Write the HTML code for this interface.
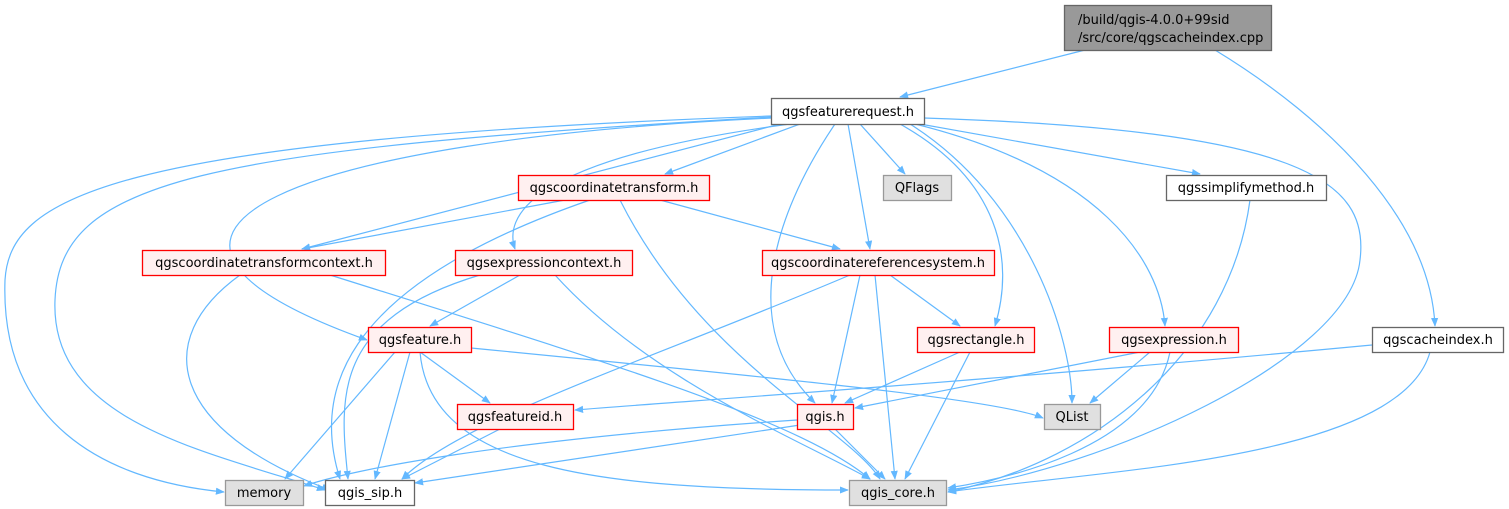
<!DOCTYPE html>
<html><head><meta charset="utf-8"><style>
html,body{margin:0;padding:0;background:#fff;}
svg{display:block;}
text{font-family:"DejaVu Sans","Liberation Sans",sans-serif;font-size:13px;fill:#000;}
.e{fill:none;stroke:#63b8ff;stroke-width:1.2;marker-end:url(#a);}
</style></head><body>
<svg width="1509" height="509" viewBox="0 0 1509 509" xmlns="http://www.w3.org/2000/svg">
<defs><marker id="a" viewBox="0 0 10 10" refX="9" refY="5" markerWidth="9" markerHeight="9" markerUnits="userSpaceOnUse" orient="auto"><path d="M0,1 L10,5 L0,9 z" fill="#63b8ff"/></marker></defs>
<g>
<path class="e" d="M1085,50 L900,97"/>
<path class="e" d="M1215,50 C1330,120 1430,220 1435,326"/>
<path class="e" d="M800,124 L665,174"/>
<path class="e" d="M860,124 L905,174"/>
<path class="e" d="M920,124 L1200,174"/>
<path class="e" d="M780,124 L302,249"/>
<path class="e" d="M790,124 C520,160 505,220 515,249"/>
<path class="e" d="M848,124 L870,249"/>
<path class="e" d="M772,118 C300,140 60,230 367,340"/>
<path class="e" d="M900,124 C1000,180 1015,260 995,326"/>
<path class="e" d="M915,124 C1100,170 1160,260 1165,326"/>
<path class="e" d="M835,124 C770,220 740,330 815,403"/>
<path class="e" d="M910,124 C1030,200 1072,340 1072,403"/>
<path class="e" d="M924,118 C1300,130 1370,180 1360,260 C1350,360 1100,470 948,490"/>
<path class="e" d="M772,116 C100,140 10,200 5,280 C0,420 100,480 224,492"/>
<path class="e" d="M772,117 C200,150 60,180 55,300 C50,420 200,450 325,490"/>
<path class="e" d="M565,200 L302,249"/>
<path class="e" d="M660,200 L840,249"/>
<path class="e" d="M590,200 C330,290 315,400 340,479"/>
<path class="e" d="M620,200 C700,360 850,430 880,479"/>
<path class="e" d="M240,275 C150,340 170,430 330,490"/>
<path class="e" d="M330,275 C600,360 800,420 870,479"/>
<path class="e" d="M520,275 L430,326"/>
<path class="e" d="M480,275 C330,320 340,400 348,479"/>
<path class="e" d="M555,275 C650,380 800,440 870,479"/>
<path class="e" d="M890,275 L960,326"/>
<path class="e" d="M860,275 L832,403"/>
<path class="e" d="M850,275 C650,360 460,420 402,479"/>
<path class="e" d="M875,275 L895,479"/>
<path class="e" d="M420,352 L490,403"/>
<path class="e" d="M471,348 C800,380 1000,400 1043,418"/>
<path class="e" d="M395,352 L285,479"/>
<path class="e" d="M410,352 L375,479"/>
<path class="e" d="M420,352 C430,470 600,490 848,490"/>
<path class="e" d="M960,352 L845,403"/>
<path class="e" d="M970,352 L905,479"/>
<path class="e" d="M1140,352 C1000,380 900,400 855,408"/>
<path class="e" d="M1150,352 L1090,403"/>
<path class="e" d="M1170,352 C1150,450 1000,480 948,488"/>
<path class="e" d="M1372,345 C1000,380 700,400 575,410"/>
<path class="e" d="M1430,352 C1400,460 1100,470 948,492"/>
<path class="e" d="M500,429 L402,479"/>
<path class="e" d="M797,420 C500,440 350,470 304,486"/>
<path class="e" d="M800,425 L415,483"/>
<path class="e" d="M835,429 L885,479"/>
<path class="e" d="M1250,200 C1230,350 1100,460 948,492"/>
</g>
<g stroke-width="1.3">
<rect x="1064.5" y="5.5" width="207" height="45" fill="#999" stroke="#666"/>
<text x="1078" y="24">/build/qgis-4.0.0+99sid</text>
<text x="1078" y="42">/src/core/qgscacheindex.cpp</text>

<rect x="771.5" y="98.5" width="153" height="26" fill="#fff" stroke="#666"/>
<text x="848" y="116" text-anchor="middle">qgsfeaturerequest.h</text>

<rect x="518.5" y="175.5" width="191" height="25" fill="#fff0f0" stroke="#f00"/>
<text x="614" y="192" text-anchor="middle">qgscoordinatetransform.h</text>
<rect x="883.5" y="175.5" width="68" height="25" fill="#e0e0e0" stroke="#999"/>
<text x="917" y="192" text-anchor="middle">QFlags</text>
<rect x="1166.5" y="175.5" width="160" height="25" fill="#fff" stroke="#666"/>
<text x="1246" y="192" text-anchor="middle">qgssimplifymethod.h</text>

<rect x="142.5" y="250.5" width="243" height="25" fill="#fff0f0" stroke="#f00"/>
<text x="264" y="267" text-anchor="middle">qgscoordinatetransformcontext.h</text>
<rect x="455.5" y="250.5" width="177" height="25" fill="#fff0f0" stroke="#f00"/>
<text x="544" y="267" text-anchor="middle">qgsexpressioncontext.h</text>
<rect x="762.5" y="250.5" width="232" height="25" fill="#fff0f0" stroke="#f00"/>
<text x="878" y="267" text-anchor="middle">qgscoordinatereferencesystem.h</text>

<rect x="368.5" y="327.5" width="103" height="25" fill="#fff0f0" stroke="#f00"/>
<text x="420" y="344" text-anchor="middle">qgsfeature.h</text>
<rect x="917.5" y="327.5" width="117" height="25" fill="#fff0f0" stroke="#f00"/>
<text x="976" y="344" text-anchor="middle">qgsrectangle.h</text>
<rect x="1109.5" y="327.5" width="129" height="25" fill="#fff0f0" stroke="#f00"/>
<text x="1174" y="344" text-anchor="middle">qgsexpression.h</text>
<rect x="1372.5" y="327.5" width="131" height="25" fill="#fff" stroke="#666"/>
<text x="1438" y="344" text-anchor="middle">qgscacheindex.h</text>

<rect x="457.5" y="404.5" width="116" height="25" fill="#fff0f0" stroke="#f00"/>
<text x="515" y="421" text-anchor="middle">qgsfeatureid.h</text>
<rect x="797.5" y="404.5" width="56" height="25" fill="#fff0f0" stroke="#f00"/>
<text x="825" y="421" text-anchor="middle">qgis.h</text>
<rect x="1044.5" y="404.5" width="56" height="25" fill="#e0e0e0" stroke="#999"/>
<text x="1072" y="421" text-anchor="middle">QList</text>

<rect x="225.5" y="480.5" width="78" height="25" fill="#e0e0e0" stroke="#999"/>
<text x="264" y="497" text-anchor="middle">memory</text>
<rect x="325.5" y="480.5" width="89" height="25" fill="#fff" stroke="#666"/>
<text x="370" y="497" text-anchor="middle">qgis_sip.h</text>
<rect x="849.5" y="480.5" width="97" height="25" fill="#e0e0e0" stroke="#999"/>
<text x="898" y="497" text-anchor="middle">qgis_core.h</text>
</g>
</svg>
</body></html>
